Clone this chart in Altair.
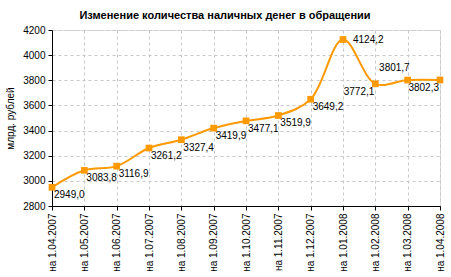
import altair as alt
import pandas as pd

dates = ["на 1.04.2007", "на 1.05.2007", "на 1.06.2007", "на 1.07.2007",
         "на 1.08.2007", "на 1.09.2007", "на 1.10.2007", "на 1.11.2007",
         "на 1.12.2007", "на 1.01.2008", "на 1.02.2008", "на 1.03.2008",
         "на 1.04.2008"]
values = [2949.0, 3083.8, 3116.9, 3261.2, 3327.4, 3419.9, 3477.1, 3519.9,
          3649.2, 4124.2, 3772.1, 3801.7, 3802.3]
y_ticks = [2800, 3000, 3200, 3400, 3600, 3800, 4000, 4200]

df = pd.DataFrame({"date": dates, "value": values})

FONT = "Liberation Sans"
ORANGE = "#ff9900"

x = alt.X("date:N", sort=dates, title=None,
          scale=alt.Scale(type="point", padding=0),
          axis=alt.Axis(labelAngle=270, labelFontSize=10, labelFont=FONT,
                        labelColor="#000", domainColor="#000", tickColor="#000",
                        tickSize=4, labelPadding=3,
                        grid=True, gridColor="#c8c8c8", gridDash=[3, 3]))
y = alt.Y("value:Q", title="млрд. рублей",
          scale=alt.Scale(domain=[2800, 4200], nice=False, zero=False),
          axis=alt.Axis(values=y_ticks, format="d", labelFontSize=10, labelFont=FONT,
                        labelColor="#000", domainColor="#000", tickColor="#000",
                        tickSize=4, labelPadding=3,
                        titleFont=FONT, titleFontSize=10, titleFontWeight="normal",
                        titleColor="#000", titlePadding=7,
                        grid=True, gridColor="#c8c8c8", gridDash=[3, 3]))

base = alt.Chart(df).encode(x=x, y=y)

line = base.mark_line(color=ORANGE, strokeWidth=2, interpolate="catmull-rom")
pts = base.mark_square(color=ORANGE, size=45, opacity=1)

lab = base.transform_calculate(
    lbl="replace(format(datum.value, '.1f'), '.', ',')"
)
txt = dict(fontSize=10, font=FONT, color="#000", baseline="middle")

right_lbl = ["на 1.01.2008"]
below_left = ["на 1.02.2008", "на 1.04.2008"]
above_left = ["на 1.03.2008"]
special = right_lbl + below_left + above_left

t_default = lab.transform_filter(
    alt.FieldOneOfPredicate(field="date", oneOf=[d for d in dates if d not in special])
).mark_text(align="left", dx=2, dy=8, **txt).encode(text="lbl:N")
t_right = lab.transform_filter(
    alt.FieldOneOfPredicate(field="date", oneOf=right_lbl)
).mark_text(align="left", dx=10, dy=0, **txt).encode(text="lbl:N")
t_bl = lab.transform_filter(
    alt.FieldOneOfPredicate(field="date", oneOf=below_left)
).mark_text(align="right", dx=-1, dy=8, **txt).encode(text="lbl:N")
t_al = lab.transform_filter(
    alt.FieldOneOfPredicate(field="date", oneOf=above_left)
).mark_text(align="right", dx=2, dy=-12, **txt).encode(text="lbl:N")

chart = alt.layer(line, pts, t_default, t_right, t_bl, t_al).properties(
    width=388, height=176,
    title=alt.TitleParams("Изменение количества наличных денег в обращении",
                          font=FONT, fontSize=11, fontWeight="bold", color="#000",
                          anchor="middle", frame="group", dx=-21, offset=4),
    padding={"left": 52, "top": 30, "right": 11, "bottom": 71},
    autosize=alt.AutoSizeParams(type="none"),
).configure_view(stroke="#000", strokeWidth=1).configure(background="white")

chart.save("out.html", embed_options={"renderer": "svg", "actions": False})
